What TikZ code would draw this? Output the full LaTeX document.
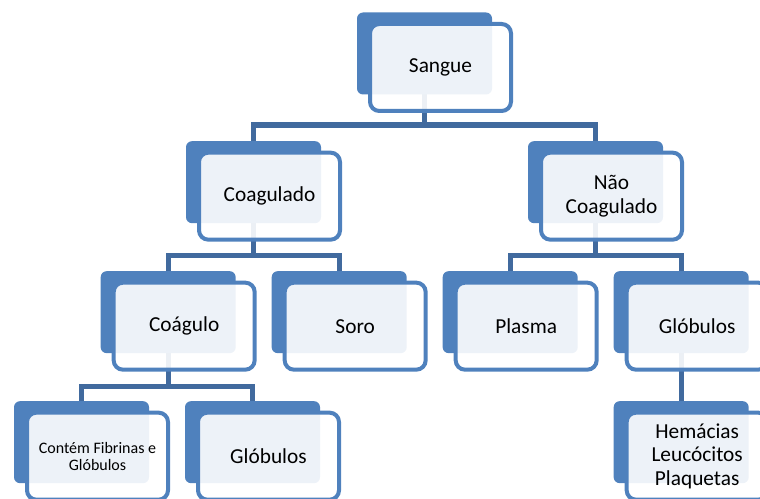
\documentclass[tikz,border=0pt]{standalone}
\usepackage{fontspec}
\setmainfont{Carlito}
\usetikzlibrary{positioning}
\definecolor{boxblue}{RGB}{79,129,189}
\definecolor{linkblue}{RGB}{65,106,158}
\pgfdeclarelayer{bg}
\pgfsetlayers{bg,main}

\begin{document}
\begin{tikzpicture}[x=0.75pt, y=-0.75pt, node distance=36pt and 27pt,
  back/.style={fill=boxblue, rounded corners=4.5pt, minimum width=101.25pt,
    minimum height=61.5pt, inner sep=0pt, outer sep=0pt},
  front/.style={draw=boxblue, line width=3pt, rounded corners=7pt, fill=white,
    fill opacity=0.9, text opacity=1, minimum width=105.75pt,
    minimum height=65.25pt, align=center, inner sep=2pt,
    font=\fontsize{16}{17.5}\selectfont},
  small/.style={font=\fontsize{12}{12.5}\selectfont},
  link/.style={draw=linkblue, line width=4pt}]
\useasboundingbox (0,0) rectangle (760,499);
\clip (0,0) rectangle (760,499);
% back boxes
\node[back] (sangue) at (424.5,53.5) {};
\node[back, below left=35pt and 27pt of sangue] (coag) {};
\node[back, below right=35pt and 27pt of sangue] (naocoag) {};
\node[back, below=36pt of coag, xshift=-64pt] (coagulo) {};
\node[back, right=27pt of coagulo] (soro) {};
\node[back, below=36pt of naocoag, xshift=-64pt] (plasma) {};
\node[back, right=27pt of plasma] (globulos) {};
\node[back, below=36pt of coagulo, xshift=-65pt] (fibrinas) {};
\node[back, right=27pt of fibrinas] (globulosB) {};
\node[back, below=36pt of globulos] (hemacias) {};
% front boxes with text
\node[front] (sangueT) at ([shift={(12pt,-10.5pt)}]sangue.center) {Sangue};
\node[front] (coagT) at ([shift={(12pt,-10.5pt)}]coag.center) {Coagulado};
\node[front] (naocoagT) at ([shift={(12pt,-10.5pt)}]naocoag.center) {Não\\Coagulado};
\node[front] (coaguloT) at ([shift={(12pt,-10.5pt)}]coagulo.center) {Coágulo};
\node[front] (soroT) at ([shift={(12pt,-10.5pt)}]soro.center) {Soro};
\node[front] (plasmaT) at ([shift={(12pt,-10.5pt)}]plasma.center) {Plasma};
\node[front] (globulosT) at ([shift={(12pt,-10.5pt)}]globulos.center) {Glóbulos};
\node[front, small] (fibrinasT) at ([shift={(12pt,-10.5pt)}]fibrinas.center) {Contém Fibrinas e\\Glóbulos};
\node[front] (globulosBT) at ([shift={(12pt,-10.5pt)}]globulosB.center) {Glóbulos};
\node[front] (hemaciasT) at ([shift={(12pt,-10.5pt)}]hemacias.center) {Hemácias\\Leucócitos\\Plaquetas};
% connectors
\begin{pgfonlayer}{bg}
\draw[link] (sangue.south) -- ([yshift=-23pt]sangue.south);
\draw[link] (coag.north) |- ([yshift=-23pt]sangue.south) -| (naocoag.north);
\draw[link] (coag.south) -- ([yshift=-24pt]coag.south);
\draw[link] (coagulo.north) |- ([yshift=-24pt]coag.south) -| (soro.north);
\draw[link] (naocoag.south) -- ([yshift=-24pt]naocoag.south);
\draw[link] (plasma.north) |- ([yshift=-24pt]naocoag.south) -| (globulos.north);
\draw[link] (coagulo.south) -- ([yshift=-25pt]coagulo.south);
\draw[link] (fibrinas.north) |- ([yshift=-25pt]coagulo.south) -| (globulosB.north);
\draw[link] (globulos.south) -- (hemacias.north);
\end{pgfonlayer}
\end{tikzpicture}
\end{document}
